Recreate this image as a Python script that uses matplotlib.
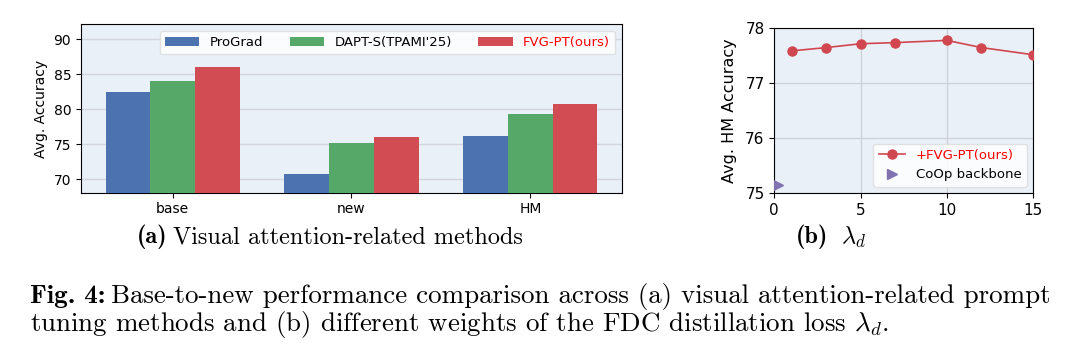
import numpy as np
import matplotlib
matplotlib.use("Agg")
import matplotlib.pyplot as plt

plt.rcParams['mathtext.fontset'] = 'cm'

# (a) visual attention-related methods
groups = ['base', 'new', 'HM']
methods = ['ProGrad', "DAPT-S(TPAMI'25)", 'FVG-PT(ours)']
prograd = [82.5, 70.8, 76.2]
dapt = [84.0, 75.2, 79.35]
fvg = [86.05, 76.05, 80.75]

# (b) lambda_d sweep
lam = [1, 3, 5, 7, 10, 12, 15]
hm_acc = [77.58, 77.64, 77.71, 77.73, 77.77, 77.64, 77.51]
coop_x = [0.2]
coop_hm = [75.15]

bar_colors = ['#4C72B0', '#55A868', '#D14D53']
bg = '#EAF0F8'

fig = plt.figure(figsize=(10.68, 3.59), dpi=100)
W, H = 1068, 359

# ---------------- (a) bars ----------------
ax1 = fig.add_axes([0.0758, 0.4632, 0.5066, 0.469])
ax1.set_facecolor(bg)
x = np.arange(len(groups))
w = 0.25
for i, (vals, name) in enumerate(zip([prograd, dapt, fvg], methods)):
    ax1.bar(x + (i - 1) * w, vals, w, color=bar_colors[i], label=name, zorder=3)
ax1.set_ylim(68.1, 92.1)
ax1.set_yticks([70, 75, 80, 85, 90])
ax1.set_xticks(x)
ax1.set_xticklabels(groups)
ax1.set_ylabel('Avg. Accuracy', fontsize=10)
ax1.tick_params(labelsize=10)
ax1.grid(axis='y', color='#d3d6db', linewidth=1, zorder=0)
ax1.set_axisbelow(True)
leg1 = ax1.legend(loc='upper right', ncol=3, fontsize=9.5, framealpha=0.85,
                  edgecolor='#dddddd', handlelength=2.6, columnspacing=2.0)
leg1.get_texts()[2].set_color('red')

# ---------------- (b) lambda_d ----------------
ax2 = fig.add_axes([0.725, 0.4616, 0.2425, 0.4612])
ax2.set_facecolor(bg)
ax2.plot(lam, hm_acc, '-o', color='#D1474F', markersize=6.5, linewidth=1.2,
         label='+FVG-PT(ours)', zorder=3)
ax2.plot(coop_x, coop_hm, '>', color='#8172B2', markersize=7,
         linestyle='none', label='CoOp backbone', zorder=3)
ax2.set_xlim(0, 15)
ax2.set_ylim(75, 78)
ax2.set_xticks([0, 5, 10, 15])
ax2.set_yticks([75, 76, 77, 78])
ax2.set_ylabel('Avg. HM Accuracy', fontsize=11.5, labelpad=6)
ax2.tick_params(labelsize=11)
ax2.grid(color='#cfd2d6', linewidth=1, zorder=0)
ax2.set_axisbelow(True)
leg2 = ax2.legend(loc='lower right', fontsize=9.5, framealpha=0.85, edgecolor='#dddddd')
leg2.get_texts()[0].set_color('red')

# ---------------- captions ----------------
r = fig.canvas.get_renderer()


def bold_then_plain(bold, plain, cx, y, size, gap, center=True):
    # bold label + plain text, either centred on cx or starting at cx
    tb = fig.text(0, y / H, bold, fontsize=size, family='cmb10', va='center')
    tp = fig.text(0, y / H, plain, fontsize=size, family='cmr10', va='center')
    wb = tb.get_window_extent(renderer=r).width
    wp = tp.get_window_extent(renderer=r).width
    x0 = cx - (wb + gap + wp) / 2 if center else cx
    tb.set_x(x0 / W)
    tp.set_x((x0 + wb + gap) / W)
    tb.set_y(1 - y / H)
    tp.set_y(1 - y / H)


bold_then_plain('(a)', 'Visual attention-related methods', 330, 237, 17.5, 6)
bold_then_plain('(b)', r'$\lambda_d$', 831, 237, 17.5, 12)

lines = ['Base-to-new performance comparison across (a) visual attention-related prompt',
         'tuning methods and (b) different weights of the FDC distillation loss $\\lambda_d$.']
bold_then_plain('Fig. 4:', lines[0], 30, 296, 19.4, 6, center=False)
fig.text(30 / W, 1 - 325 / H, lines[1], ha='left', va='center',
         fontsize=19.4, family='cmr10')

fig.savefig('out.png', dpi=100)
